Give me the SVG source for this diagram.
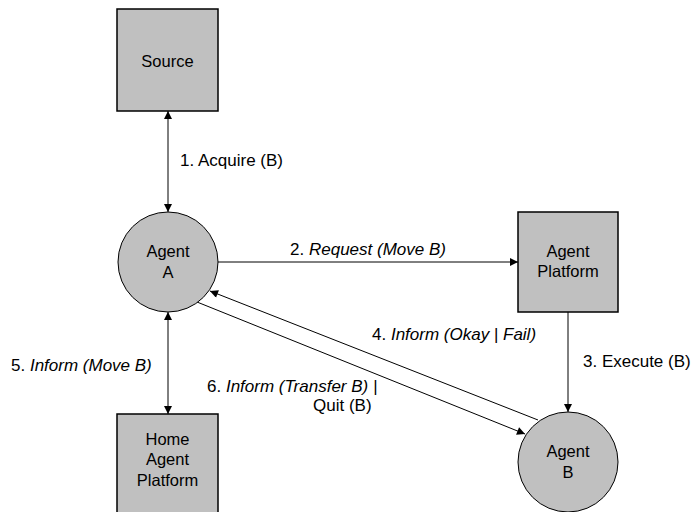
<svg xmlns="http://www.w3.org/2000/svg" width="694" height="512" viewBox="0 0 694 512">
  <defs>
    <marker id="arrow" viewBox="0 0 10 10" refX="10" refY="5" markerWidth="9" markerHeight="8" markerUnits="userSpaceOnUse" orient="auto-start-reverse">
      <path d="M0,0 L10,5 L0,10 z" fill="#000"/>
    </marker>
    <style>
      .box { fill: #c0c0c0; stroke: #000; stroke-width: 1.5; }
      .ball { fill: #c0c0c0; stroke: #000; stroke-width: 1; }
      .node-text { font-family: "Liberation Sans", Arial, sans-serif; font-size: 16.5px; fill: #000; text-anchor: middle; }
      .label { font-family: "Liberation Sans", Arial, sans-serif; font-size: 17px; fill: #000; }
      .it { font-style: italic; }
      .link { stroke: #000; stroke-width: 1; fill: none; }
    </style>
  </defs>
  <rect width="694" height="512" fill="#fff"/>

  <g id="connectors">
    <line class="link" x1="168" y1="111" x2="168" y2="212" marker-start="url(#arrow)" marker-end="url(#arrow)"/>
    <line class="link" x1="218" y1="262" x2="518" y2="262" marker-end="url(#arrow)"/>
    <line class="link" x1="568" y1="312" x2="568" y2="412" marker-end="url(#arrow)"/>
    <line class="link" x1="168" y1="312" x2="168" y2="414" marker-start="url(#arrow)" marker-end="url(#arrow)"/>
    <line class="link" x1="538" y1="420" x2="210" y2="291" marker-end="url(#arrow)"/>
    <line class="link" x1="197" y1="302" x2="525" y2="434" marker-end="url(#arrow)"/>
  </g>

  <g id="source">
    <rect class="box" x="117" y="9" width="101" height="102"/>
    <text class="node-text" x="167.5" y="67">Source</text>
  </g>

  <g id="agent-a">
    <circle class="ball" cx="168" cy="262" r="50"/>
    <text class="node-text" x="168" y="257">Agent</text>
    <text class="node-text" x="168" y="278">A</text>
  </g>

  <g id="agent-platform">
    <rect class="box" x="518" y="212" width="100" height="100"/>
    <text class="node-text" x="568" y="257">Agent</text>
    <text class="node-text" x="568" y="277">Platform</text>
  </g>

  <g id="agent-b">
    <circle class="ball" cx="568" cy="462" r="50"/>
    <text class="node-text" x="568" y="457">Agent</text>
    <text class="node-text" x="568" y="478">B</text>
  </g>

  <g id="home-agent-platform">
    <rect class="box" x="117" y="414" width="101" height="110"/>
    <text class="node-text" x="167.5" y="445">Home</text>
    <text class="node-text" x="167.5" y="465">Agent</text>
    <text class="node-text" x="167.5" y="486">Platform</text>
  </g>

  <g id="labels">
    <text class="label" x="180" y="166">1. Acquire (B)</text>
    <text class="label" x="368" y="255" text-anchor="middle">2. <tspan class="it">Request (Move B)</tspan></text>
    <text class="label" x="583" y="367">3. Execute (B)</text>
    <text class="label" x="372" y="340">4. <tspan class="it">Inform (Okay | Fail)</tspan></text>
    <text class="label" x="11" y="371">5. <tspan class="it">Inform (Move B)</tspan></text>
    <text class="label" x="207" y="392">6. <tspan class="it">Inform (Transfer B) |</tspan></text>
    <text class="label" x="313" y="411">Quit (B)</text>
  </g>
</svg>
